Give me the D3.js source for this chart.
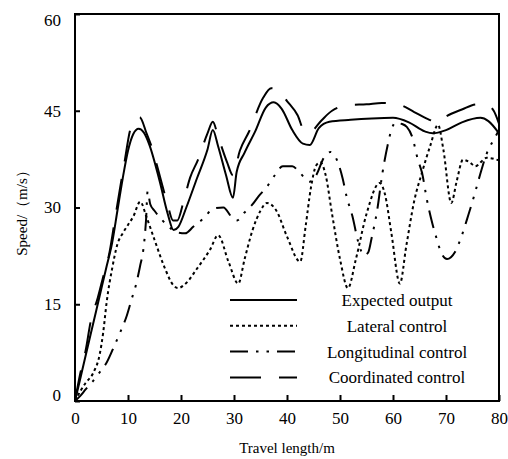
<!DOCTYPE html>
<meta charset="utf-8">
<style>
  body { margin: 0; background: #fff; }
  text { font-family: "Liberation Serif", "Times New Roman", serif; fill: #000; }
</style>
<script src="https://d3js.org/d3.v7.min.js"></script>
<div id="chart"></div>
<script>
// travel length (m) and speed (m/s)
var expectedX = [0,2,4,6,7,8,9,10,11,12,13,14,16,17.5,18.6,19.5,21,23,25,26,27,28.5,29.8,30.5,32,34,36,37.5,39,41,43,44.3,46,48,52,56,60,63,66,67.5,70,73,76.5,78,80];
var expectedY = [0,7,14,21,24.5,29.5,34.5,38.8,41.4,42.2,41.6,39.8,34,29,26.5,27,30,34.5,39,42,39.5,35,31.5,35.5,38.5,41.8,45.5,46.3,45.3,42,39.9,39.7,42.3,43.3,43.6,43.8,43.9,43.2,41.8,41.5,42,43.2,43.9,43.4,41.5];

var lateralX = [0,1,2,3.4,4.7,5.3,6,7,8,9,10,11,12.3,13.5,15,17,18.5,19.4,21,23,25.5,27,29,30.8,32,33.5,35,36.2,38,40,42.5,43.5,44.5,45.5,46.3,47.3,48.5,50,51.5,53,55,57.5,58.5,59.7,61.3,62.5,64,65.5,67,68.5,69.5,71,72,73.2,74.5,75.5,77.7,80];
var lateralY = [0,1.5,2.8,4.3,7.4,10.5,15.5,20.5,24.3,26,27.3,28.6,30.9,28.5,25,20.5,18,17.5,18.3,20.5,23.5,25.7,21.5,18.2,22,26.5,29.5,30.7,29.5,25.5,21.6,27,33,36.5,37,35,29,22,17.5,22,29,33.8,32,26,18.2,24,31,35.5,39.5,42.8,39,30.7,34,37.4,37,36.4,37.7,37.3];

var longX = [0,1,2,3.5,4.7,6,7.5,8.5,9.8,10.8,11.5,12.3,12.9,13.4,13.7,14.2,15,16.5,18,19,20.8,22.3,24.5,26,28,29.6,30.6,31.7,33.4,34.7,36.2,37.7,39.2,41,42.5,44.3,45.5,47,48.2,49.6,50.5,51.3,52.3,53.5,54.5,55.3,56,57,58,59,59.8,60.5,61.5,62.6,63.6,64.7,65.5,66.4,67.4,68.3,68.9,70.2,71.7,73,74.2,75.2,76.4,77.7,79.2,80];
var longY = [0,0.8,1.8,3.2,4.5,6,8.7,10.6,13.3,16.1,18,21,23.5,28,32.5,30.5,29.5,28,26.8,26.2,26,27,28.5,29.8,30,28.5,28,29,30.4,31.8,33.2,35,36.4,36.4,35.3,34,35,37.8,38.6,37,34.5,31.5,28.8,24.5,22.6,23,25.4,29.5,35.3,39.7,42.3,43.2,43,42.5,41,37.4,35.3,31.2,27.6,25,23.4,22,23.1,25.7,28.8,31.5,35,38.4,40.8,42];

var coordX = [0,1,2,3,4.3,5.3,6.5,7.5,8.5,9.3,10.4,11.3,12.2,13.5,14.7,15.7,17.4,18.5,19.3,20.5,21.7,23.2,25,26,27,28.7,29.8,31.1,32.8,35.5,37,38.3,40,42,43.4,44.5,46.5,48.5,51.9,55,57.9,61.3,64,66.6,68.5,70.2,73,75.8,77.5,79,80];
var coordY = [0,4.3,7.8,12.5,16,19.2,23,28,33,36.8,42,43.6,44,41.5,38.8,35.8,30.7,28,28,31,34.6,37.4,41.5,43.3,41,37,35,38.8,41.7,47,48.5,48.2,46.5,44.3,41.7,41.8,43.5,45,45.9,46,46.2,45.9,44.8,43.7,43.2,44.2,45.2,46,46,45,43];

var xTicks = [0,10,20,30,40,50,60,70,80];
var yTicks = [0,15,30,45,60];
var legendNames = ["Expected output", "Lateral control", "Longitudinal control", "Coordinated control"];

var margin = {top: 14, right: 9, bottom: 58, left: 75},
  width = 508 - margin.left - margin.right,
  height = 459 - margin.top - margin.bottom;

var svg = d3.select("#chart")
  .append("svg")
    .attr("width", 508)
    .attr("height", 459)
  .append("g")
    .attr("transform", "translate(" + margin.left + "," + margin.top + ")");

var x = d3.scaleLinear().domain([0, 80]).range([0, width]);
var y = d3.scaleLinear().domain([0, 60]).range([height, 0]);

// styles for the four series
var styles = [
  {dash: null, w: 2},
  {dash: "3,3", w: 2},
  {dash: "18,8,2.5,8,2.5,8", w: 2},
  {dash: "31,18", w: 2}
];
var series = [
  d3.zip(expectedX, expectedY),
  d3.zip(lateralX, lateralY),
  d3.zip(longX, longY),
  d3.zip(coordX, coordY)
];

var line = d3.line()
  .x(function(d) { return x(d[0]); })
  .y(function(d) { return y(d[1]); })
  .curve(d3.curveMonotoneX);

series.forEach(function(s, i) {
  svg.append("path")
    .datum(s)
    .attr("fill", "none")
    .attr("stroke", "#000")
    .attr("stroke-width", styles[i].w)
    .attr("stroke-dasharray", styles[i].dash)
    .attr("d", line);
});

// frame
svg.append("rect")
  .attr("width", width)
  .attr("height", height)
  .attr("fill", "none")
  .attr("stroke", "#000")
  .attr("stroke-width", 2);

// axes with inward ticks
var xAxis = svg.append("g")
  .attr("transform", "translate(0," + height + ")")
  .call(d3.axisBottom(x).tickValues(xTicks).tickSizeInner(-6).tickSizeOuter(0).tickPadding(11));
var yAxis = svg.append("g")
  .call(d3.axisLeft(y).tickValues(yTicks).tickSizeInner(-5).tickSizeOuter(0).tickPadding(14));

[xAxis, yAxis].forEach(function(a) {
  a.select(".domain").remove();
  a.selectAll("line").attr("stroke", "#000").attr("stroke-width", 2);
  a.selectAll("text")
    .style("font-family", "'Liberation Serif', serif")
    .style("font-size", "17px")
    .attr("fill", "#000");
});
// end labels sit a little inside the frame
yAxis.selectAll("text").attr("dy", function(d) {
  return d === 60 ? "0.65em" : d === 0 ? "-0.05em" : "0.32em";
});

// axis titles
svg.append("text")
  .attr("x", width / 2)
  .attr("y", height + 52)
  .attr("text-anchor", "middle")
  .style("font-size", "15px")
  .text("Travel length/m");

svg.append("text")
  .attr("transform", "translate(" + (-48) + "," + (height / 2 + 2) + ") rotate(-90)")
  .attr("text-anchor", "middle")
  .style("font-size", "15px")
  .text("Speed/（m/s）");

// legend
var legend = svg.append("g")
  .attr("transform", "translate(" + (230 - margin.left) + "," + (300 - margin.top) + ")");

legendNames.forEach(function(name, i) {
  var row = legend.append("g").attr("transform", "translate(0," + (i * 25.8) + ")");
  row.append("line")
    .attr("x1", 0).attr("x2", 67)
    .attr("y1", 0).attr("y2", 0)
    .attr("stroke", "#000")
    .attr("stroke-width", styles[i].w)
    .attr("stroke-dasharray", styles[i].dash);
  row.append("text")
    .attr("x", 167)
    .attr("y", 0)
    .attr("dy", "0.35em")
    .attr("text-anchor", "middle")
    .style("font-size", "17px")
    .text(name);
});
</script>
